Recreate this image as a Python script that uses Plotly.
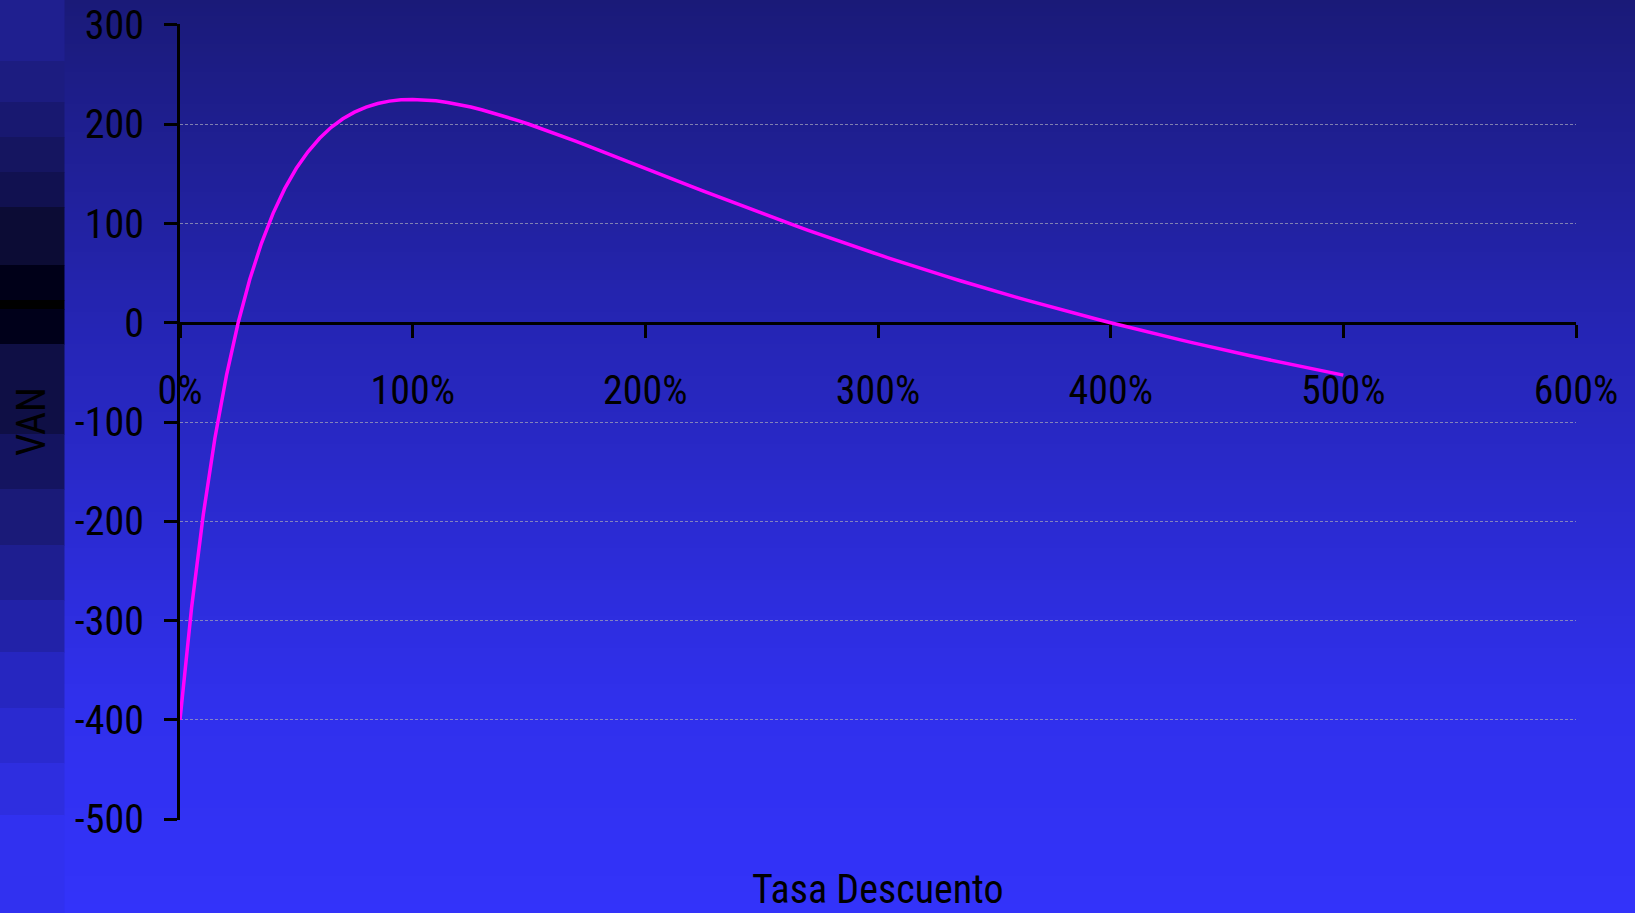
import plotly.graph_objects as go

# ---------------- data ----------------
rate_pct = [0, 5, 10, 15, 20, 25, 30, 35, 40, 45, 50, 55, 60, 65, 70, 75, 80, 85, 90, 95,
            100, 105, 110, 115, 120, 125, 130, 135, 140, 145, 150, 155, 160, 165, 170, 175,
            180, 185, 190, 195, 200, 205, 210, 215, 220, 225, 230, 235, 240, 245, 250, 255,
            260, 265, 270, 275, 280, 285, 290, 295, 300, 305, 310, 315, 320, 325, 330, 335,
            340, 345, 350, 355, 360, 365, 370, 375, 380, 385, 390, 395, 400, 405, 410, 415,
            420, 425, 430, 435, 440, 445, 450, 455, 460, 465, 470, 475, 480, 485, 490, 495, 500]
van = [-400.0, -286.6, -193.4, -116.4, -52.8, 0.0, 43.8, 80.1, 110.2, 135.1, 155.6, 172.3,
       185.9, 196.9, 205.5, 212.2, 217.3, 220.9, 223.3, 224.6, 225.0, 224.6, 223.6, 222.0,
       219.8, 217.3, 214.4, 211.1, 207.6, 203.9, 200.0, 195.9, 191.7, 187.4, 183.0, 178.5,
       174.0, 169.4, 164.8, 160.2, 155.6, 150.9, 146.3, 141.7, 137.1, 132.5, 128.0, 123.5,
       119.0, 114.6, 110.2, 105.8, 101.5, 97.3, 93.1, 88.9, 84.8, 80.7, 76.7, 72.7, 68.8,
       64.9, 61.0, 57.3, 53.5, 49.8, 46.2, 42.6, 39.0, 35.5, 32.1, 28.7, 25.3, 22.0, 18.7,
       15.5, 12.3, 9.2, 6.1, 3.0, 0.0, -3.0, -5.9, -8.8, -11.7, -14.5, -17.3, -20.0, -22.8,
       -25.4, -28.1, -30.7, -33.3, -35.8, -38.3, -40.8, -43.3, -45.7, -48.1, -50.4, -52.8]

y_tick_vals = [300, 200, 100, 0, -100, -200, -300, -400, -500]
y_tick_text = ["300", "200", "100", "0", "-100", "-200", "-300", "-400", "-500"]
x_tick_vals = [0, 100, 200, 300, 400, 500, 600]
x_tick_text = ["0%", "100%", "200%", "300%", "400%", "500%", "600%"]

x_title = "Tasa Descuento"
y_title = "VAN"

# ---------------- layout geometry (pixels) ----------------
W, H = 1635, 913
Y_LO, Y_HI = -501, 301          # tiny padding so edge gridlines show
L, R, T, B = 180, 1576, 24, 820
FONT = "Roboto Condensed, Liberation Sans Narrow, Arial Narrow, sans-serif"
FW = 400


def px(x):
    return (x - L) / (R - L)


def py(y):
    return (B - y) / (B - T)


def lerp_stops(stops, y):
    for (y0, c0), (y1, c1) in zip(stops[:-1], stops[1:]):
        if y0 <= y <= y1:
            t = 0 if y1 == y0 else (y - y0) / (y1 - y0)
            return tuple(round(a + (b - a) * t) for a, b in zip(c0, c1))
    return stops[-1][1]


main_stops = [(0, (26, 26, 120)), (325, (37, 37, 180)), (700, (48, 48, 236)), (913, (51, 51, 250))]

strip_bands = [
    (0, 61, (31, 31, 143)), (61, 102, (28, 28, 128)), (102, 137, (24, 24, 112)),
    (137, 172, (21, 21, 96)), (172, 207, (17, 17, 80)), (207, 265, (12, 12, 53)),
    (265, 300, (0, 0, 24)), (300, 309, (0, 0, 0)), (309, 344, (0, 0, 26)),
    (344, 434, (15, 15, 69)), (434, 489, (20, 20, 96)), (489, 545, (26, 26, 120)),
    (545, 600, (30, 30, 144)), (600, 652, (34, 34, 168)), (652, 708, (38, 38, 192)),
    (708, 763, (42, 42, 208)), (763, 815, (46, 46, 224)), (815, 913, (49, 49, 240)),
]

shapes = []
step = 4
for y in range(0, H, step):
    c = lerp_stops(main_stops, y + step / 2)
    shapes.append(dict(type="rect", xref="paper", yref="paper", layer="below",
                       x0=px(64), x1=px(W), y0=py(y + step + 0.5), y1=py(y),
                       fillcolor="rgb(%d,%d,%d)" % c, line=dict(width=0)))
for y0, y1, c in strip_bands:
    shapes.append(dict(type="rect", xref="paper", yref="paper", layer="below",
                       x0=px(0), x1=px(64.5), y0=py(y1 + 0.5), y1=py(y0),
                       fillcolor="rgb(%d,%d,%d)" % c, line=dict(width=0)))

fig = go.Figure()
fig.add_trace(go.Scatter(x=rate_pct, y=van, mode="lines",
                         line=dict(color="#ff00ff", width=3.5), hoverinfo="skip",
                         showlegend=False))

tick_font = dict(family=FONT, size=40, color="black", weight=FW)

fig.update_layout(
    template="none",
    width=W, height=H, autosize=False,
    margin=dict(l=L, r=W - R, t=T, b=H - B, pad=0, autoexpand=False),
    paper_bgcolor="rgb(26,26,120)",
    plot_bgcolor="rgba(0,0,0,0)",
    font=tick_font,
    shapes=shapes,
    showlegend=False,
    xaxis=dict(
        range=[0, 600], anchor="free", position=(0 - Y_LO) / (Y_HI - Y_LO),
        tickmode="array", tickvals=x_tick_vals, ticktext=x_tick_text,
        showgrid=False, zeroline=False, automargin=False,
        showline=True, linecolor="black", linewidth=3,
        ticks="outside", ticklen=13, tickwidth=3, tickcolor="black",
        ticklabelstandoff=18, layer="below traces",
        tickfont=tick_font,
    ),
    yaxis=dict(
        range=[Y_LO, Y_HI],
        tickmode="array", tickvals=y_tick_vals, ticktext=y_tick_text,
        showgrid=True, gridcolor="rgba(160,160,185,0.75)", gridwidth=1, griddash="3px,2px",
        zeroline=False, automargin=False,
        showline=True, linecolor="black", linewidth=3,
        ticks="outside", ticklen=13, tickwidth=3, tickcolor="black",
        ticklabelstandoff=12, layer="below traces",
        tickfont=tick_font,
    ),
    annotations=[
        dict(text=x_title, xref="paper", yref="paper", x=0.5, y=py(915),
             xanchor="center", yanchor="bottom", showarrow=False,
             font=tick_font),
        dict(text=y_title, xref="paper", yref="paper", x=px(31), y=py(422),
             xanchor="center", yanchor="middle", showarrow=False, textangle=-90,
             font=tick_font),
    ],
)

fig.write_html("out.html", config={"displayModeBar": False},
               post_script="document.body.style.margin='0';document.body.style.overflow='hidden';")
